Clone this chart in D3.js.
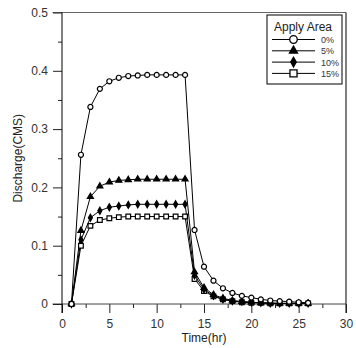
<!DOCTYPE html>
<html>
<head>
<meta charset="utf-8">
<script src="https://cdn.jsdelivr.net/npm/d3@7"></script>
<style>
  body { margin: 0; background: #fff; }
  svg { display: block; font-family: "Liberation Sans", Arial, sans-serif; }
</style>
</head>
<body>
<svg id="chart" width="356" height="348"></svg>
<script>
// time steps (hr)
var hours = d3.range(1, 27);
// discharge (CMS) per apply area
var area0 = [0, 0.256, 0.338, 0.369, 0.382, 0.388, 0.391, 0.392, 0.393, 0.393, 0.393, 0.393, 0.393,
             0.127, 0.064, 0.040, 0.027, 0.019, 0.014, 0.011, 0.008, 0.006, 0.005, 0.004, 0.003, 0.002];
var area5 = [0, 0.126, 0.184, 0.202, 0.209, 0.212, 0.213, 0.214, 0.214, 0.214, 0.214, 0.214, 0.214,
             0.055, 0.028, 0.016, 0.010, 0.006, 0.004, 0.003, 0.002, 0.002, 0.001, 0.001, 0.001, 0.001];
var area10 = [0, 0.110, 0.148, 0.160, 0.166, 0.168, 0.170, 0.171, 0.171, 0.171, 0.171, 0.171, 0.171,
              0.049, 0.025, 0.014, 0.008, 0.005, 0.004, 0.003, 0.002, 0.001, 0.001, 0.001, 0.001, 0.001];
var area15 = [0, 0.100, 0.134, 0.144, 0.147, 0.149, 0.150, 0.150, 0.150, 0.150, 0.150, 0.150, 0.150,
              0.043, 0.022, 0.013, 0.008, 0.005, 0.003, 0.002, 0.002, 0.001, 0.001, 0.001, 0.001, 0.001];
var seriesNames = ['0%', '5%', '10%', '15%'];
var xTicks = [0, 5, 10, 15, 20, 25, 30];
var yTicks = [0, 0.1, 0.2, 0.3, 0.4, 0.5];

var series = [
    { name: seriesNames[0], values: area0, symbol: d3.symbolCircle, fill: 'none', size: 20, legendSize: 45 },
    { name: seriesNames[1], values: area5, symbol: d3.symbolTriangle, fill: '#000', size: 16, legendSize: 28 },
    { name: seriesNames[2], values: area10, symbol: d3.symbolDiamond, fill: '#000', size: 14, legendSize: 26 },
    { name: seriesNames[3], values: area15, symbol: d3.symbolSquare, fill: 'none', size: 22, legendSize: 50 }
];

var svg = d3.select('#chart');

var x = d3.scaleLinear().domain([0, 30]).range([62, 346]);
var y = d3.scaleLinear().domain([0, 0.5]).range([304, 12.5]);

// frame
svg.append('line')
    .attr('x1', x(0) - 9.5).attr('x2', x(30))
    .attr('y1', y(0.5)).attr('y2', y(0.5))
    .attr('stroke', '#666').attr('stroke-width', 1);
svg.append('line')
    .attr('x1', x(30)).attr('x2', x(30))
    .attr('y1', y(0.5)).attr('y2', y(0) + 9)
    .attr('stroke', '#000').attr('stroke-width', 1);

// x axis: major + minor ticks
var xAxisG = svg.append('g').attr('transform', 'translate(0,' + y(0) + ')');
xAxisG.call(d3.axisBottom(x).tickValues(d3.range(2.5, 30, 5)).tickSize(4).tickFormat(''))
    .call(g => g.select('.domain').remove());
xAxisG.append('g')
    .call(d3.axisBottom(x).tickValues(xTicks).tickSize(9).tickPadding(6).tickFormat(d3.format('d')))
    .call(g => g.select('.domain').remove());
xAxisG.append('line')
    .attr('x1', x(0) - 9.5).attr('x2', x(30))
    .attr('stroke', '#444');
xAxisG.selectAll('text').attr('font-size', 12).attr('fill', '#333').attr('font-family', null);
xAxisG.selectAll('.tick line').attr('stroke', '#222');

// y axis
var yAxisG = svg.append('g').attr('transform', 'translate(' + x(0) + ',0)');
yAxisG.call(d3.axisLeft(y).tickValues(d3.range(0.05, 0.5, 0.1)).tickSize(4).tickFormat(''))
    .call(g => g.select('.domain').remove());
yAxisG.append('g')
    .call(d3.axisLeft(y).tickValues(yTicks).tickSize(9).tickPadding(5)
        .tickFormat(d => d === 0 ? '0' : d3.format('.1f')(d)))
    .call(g => g.select('.domain').remove());
yAxisG.append('line')
    .attr('y1', y(0.5)).attr('y2', y(0) + 9)
    .attr('stroke', '#000');
yAxisG.selectAll('text').attr('font-size', 12).attr('fill', '#333').attr('font-family', null);
yAxisG.selectAll('.tick line').attr('stroke', '#222');

// axis titles
svg.append('text')
    .attr('x', (x(0) + x(30)) / 2).attr('y', 342)
    .attr('text-anchor', 'middle').attr('font-size', 12).attr('fill', '#222')
    .text('Time(hr)');
svg.append('text')
    .attr('transform', 'translate(22,' + y(0.25) + ') rotate(-90)')
    .attr('text-anchor', 'middle').attr('font-size', 12).attr('fill', '#222')
    .text('Discharge(CMS)');

// lines and markers
var line = d3.line()
    .x((d, i) => x(hours[i]))
    .y(d => y(d));

series.forEach(function (s) {
    svg.append('path')
        .datum(s.values)
        .attr('fill', 'none')
        .attr('stroke', '#000')
        .attr('stroke-width', 1)
        .attr('d', line);
});

series.slice().reverse().forEach(function (s) {
    svg.append('g').selectAll('path')
        .data(s.values)
        .enter().append('path')
        .attr('transform', (d, i) => 'translate(' + x(hours[i]) + ',' + y(d) + ')')
        .attr('d', d3.symbol().type(s.symbol).size(s.size))
        .attr('fill', s.fill === 'none' ? '#fff' : s.fill)
        .attr('stroke', '#000')
        .attr('stroke-width', 1.2);
});

// legend
var legend = svg.append('g').attr('transform', 'translate(267,15)');
legend.append('rect')
    .attr('width', 75).attr('height', 69)
    .attr('fill', '#fff').attr('stroke', '#000').attr('stroke-width', 1);
legend.append('text')
    .attr('x', 36).attr('y', 16)
    .attr('text-anchor', 'middle').attr('font-size', 12).attr('fill', '#222')
    .text('Apply Area');

var rows = legend.selectAll('.row')
    .data(series)
    .enter().append('g')
    .attr('class', 'row')
    .attr('transform', (d, i) => 'translate(0,' + (24.5 + i * 11.3) + ')');
rows.append('line')
    .attr('x1', 5).attr('x2', 48)
    .attr('stroke', '#000');
rows.append('path')
    .attr('transform', 'translate(26.5,0)')
    .attr('d', d => d3.symbol().type(d.symbol).size(d.legendSize)())
    .attr('fill', d => d.fill === 'none' ? '#fff' : d.fill)
    .attr('stroke', '#000')
    .attr('stroke-width', 1.3);
rows.append('text')
    .attr('x', 54).attr('y', 3.5)
    .attr('font-size', 9).attr('fill', '#333')
    .text(d => d.name);
</script>
</body>
</html>
